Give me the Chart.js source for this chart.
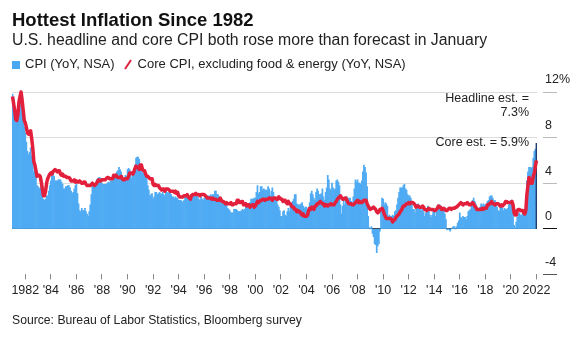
<!DOCTYPE html>
<html>
<head>
<meta charset="utf-8">
<script src="https://cdn.jsdelivr.net/npm/chart.js@4.4.1/dist/chart.umd.min.js"></script>
<style>
  body { margin: 0; background: #fff; font-family: "Liberation Sans", Arial, sans-serif; color: #111; }
  #wrap { position: relative; width: 584px; height: 339px; overflow: hidden; }
  #chart { position: absolute; left: 0; top: 0; }
  .txt { position: absolute; white-space: nowrap; }
  #title { left: 12px; top: 10px; font-size: 18.5px; line-height: 19px; font-weight: bold; }
  #subtitle { left: 12px; top: 32px; font-size: 15.8px; line-height: 16px; color: #222; }
  #legend { left: 12px; top: 57px; font-size: 13px; line-height: 13px; color: #222; }
  #legend .sq { display: inline-block; width: 8px; height: 8px; background: #4aa9f3; margin-right: 5px; vertical-align: -1px; }
  #legend svg { vertical-align: -2px; margin: 0 6px 0 9px; }
  .note { right: 55px; font-size: 12.5px; line-height: 14px; color: #222; text-align: right; }
  #source { left: 12px; top: 314px; font-size: 12.2px; line-height: 12px; color: #222; }
</style>
</head>
<body>
<div id="wrap">
  <canvas id="chart" width="584" height="339"></canvas>
  <div class="txt" id="title">Hottest Inflation Since 1982</div>
  <div class="txt" id="subtitle">U.S. headline and core CPI both rose more than forecast in January</div>
  <div class="txt" id="legend"><span class="sq"></span>CPI (YoY, NSA)<svg width="8" height="11"><line x1="1" y1="10" x2="7" y2="1" stroke="#e3203c" stroke-width="2"/></svg>Core CPI, excluding food &amp; energy (YoY, NSA)</div>
  <div class="txt note" style="top:91px">Headline est. =<br>7.3%</div>
  <div class="txt note" style="top:135px">Core est. = 5.9%</div>
  <div class="txt" id="source">Source: Bureau of Labor Statistics, Bloomberg survey</div>
</div>
<script>
// monthly, Jan 1981 .. Jan 2022 (one year per row)
const startYear = 1981;

const cpiYoY = [
  11.8, 11.4, 10.5, 10.0, 9.8, 9.6, 10.8, 10.8, 11.0, 10.1, 9.6, 8.9,
  8.4, 7.6, 6.8, 6.5, 6.7, 7.1, 6.4, 5.9, 5.0, 5.1, 4.6, 3.8,
  3.7, 3.5, 3.6, 3.9, 3.5, 2.6, 2.5, 2.6, 2.9, 2.9, 3.3, 3.8,
  4.2, 4.6, 4.8, 4.6, 4.2, 4.2, 4.2, 4.3, 4.3, 4.3, 4.1, 3.9,
  3.5, 3.5, 3.7, 3.7, 3.8, 3.8, 3.6, 3.3, 3.1, 3.2, 3.5, 3.8,
  3.9, 3.1, 2.2, 1.6, 1.5, 1.8, 1.6, 1.6, 1.8, 1.5, 1.3, 1.1,
  1.5, 2.1, 3.0, 3.8, 3.9, 3.7, 3.9, 4.3, 4.4, 4.5, 4.5, 4.4,
  4.0, 3.9, 3.9, 3.9, 3.9, 4.0, 4.1, 4.0, 4.2, 4.2, 4.2, 4.4,
  4.7, 4.8, 5.0, 5.1, 5.4, 5.2, 5.0, 4.7, 4.3, 4.5, 4.7, 4.6,
  5.2, 5.3, 5.2, 4.7, 4.4, 4.7, 4.8, 5.6, 6.2, 6.3, 6.3, 6.1,
  5.7, 5.3, 4.9, 4.9, 5.0, 4.7, 4.4, 3.8, 3.4, 2.9, 3.0, 3.1,
  2.6, 2.8, 3.2, 3.2, 3.0, 3.1, 3.2, 3.1, 3.0, 3.2, 3.0, 2.9,
  3.3, 3.2, 3.1, 3.2, 3.2, 3.0, 2.8, 2.8, 2.7, 2.8, 2.7, 2.7,
  2.5, 2.5, 2.5, 2.4, 2.3, 2.5, 2.8, 2.9, 3.0, 2.6, 2.7, 2.7,
  2.8, 2.9, 2.9, 3.1, 3.2, 3.0, 2.8, 2.6, 2.5, 2.8, 2.6, 2.5,
  2.7, 2.7, 2.8, 2.9, 2.9, 2.8, 3.0, 2.9, 3.0, 3.0, 3.3, 3.3,
  3.0, 3.0, 2.8, 2.5, 2.2, 2.3, 2.2, 2.2, 2.2, 2.1, 1.8, 1.7,
  1.6, 1.4, 1.4, 1.4, 1.7, 1.7, 1.7, 1.6, 1.5, 1.5, 1.5, 1.6,
  1.7, 1.6, 1.7, 2.3, 2.1, 2.0, 2.1, 2.3, 2.6, 2.6, 2.6, 2.7,
  2.7, 3.2, 3.8, 3.1, 3.2, 3.7, 3.7, 3.4, 3.5, 3.4, 3.4, 3.4,
  3.7, 3.5, 2.9, 3.3, 3.6, 3.2, 2.7, 2.7, 2.6, 2.1, 1.9, 1.6,
  1.1, 1.1, 1.5, 1.6, 1.2, 1.1, 1.5, 1.8, 1.5, 2.0, 2.2, 2.4,
  2.6, 3.0, 3.0, 2.2, 2.1, 2.1, 2.1, 2.2, 2.3, 2.0, 1.8, 1.9,
  1.9, 1.7, 1.7, 2.3, 3.1, 3.3, 3.0, 2.7, 2.5, 3.2, 3.5, 3.3,
  3.0, 3.0, 3.1, 3.5, 2.8, 2.5, 3.2, 3.6, 4.7, 4.3, 3.5, 3.4,
  4.0, 3.6, 3.4, 3.5, 4.2, 4.3, 4.1, 3.8, 2.1, 1.3, 2.0, 2.5,
  2.1, 2.4, 2.8, 2.6, 2.7, 2.7, 2.4, 2.0, 2.8, 3.5, 4.3, 4.1,
  4.3, 4.0, 4.0, 3.9, 4.2, 5.0, 5.6, 5.4, 4.9, 3.7, 1.1, 0.1,
  0.0, 0.2, -0.4, -0.7, -1.3, -1.4, -2.1, -1.5, -1.3, -0.2, 1.8, 2.7,
  2.6, 2.1, 2.3, 2.2, 2.0, 1.1, 1.2, 1.1, 1.1, 1.2, 1.1, 1.5,
  1.6, 2.1, 2.7, 3.2, 3.6, 3.6, 3.6, 3.8, 3.9, 3.5, 3.4, 3.0,
  2.9, 2.9, 2.7, 2.3, 1.7, 1.7, 1.4, 1.7, 2.0, 2.2, 1.8, 1.7,
  1.6, 2.0, 1.5, 1.1, 1.4, 1.8, 2.0, 1.5, 1.2, 1.0, 1.2, 1.5,
  1.6, 1.1, 1.5, 2.0, 2.1, 2.1, 2.0, 1.7, 1.7, 1.7, 1.3, 0.8,
  -0.1, 0.0, -0.1, -0.2, 0.0, 0.1, 0.2, 0.2, 0.0, 0.2, 0.5, 0.7,
  1.4, 1.0, 0.9, 1.1, 1.0, 1.0, 0.8, 1.1, 1.5, 1.6, 1.7, 2.1,
  2.5, 2.7, 2.4, 2.2, 1.9, 1.6, 1.7, 1.9, 2.2, 2.0, 2.2, 2.1,
  2.1, 2.2, 2.4, 2.5, 2.8, 2.9, 2.9, 2.7, 2.3, 2.5, 2.2, 1.9,
  1.6, 1.5, 1.9, 2.0, 1.8, 1.6, 1.8, 1.7, 1.7, 1.8, 2.1, 2.3,
  2.5, 2.3, 1.5, 0.3, 0.1, 0.6, 1.0, 1.3, 1.4, 1.2, 1.2, 1.4,
  1.4, 1.7, 2.6, 4.2, 5.0, 5.4, 5.4, 5.3, 5.4, 6.2, 6.8, 7.0,
  7.5
];

const coreYoY = [
  11.6, 11.0, 10.4, 9.6, 9.5, 10.0, 11.1, 11.6, 12.0, 11.3, 10.4, 9.5,
  9.3, 8.9, 8.4, 8.3, 8.5, 8.6, 7.9, 7.1, 5.9, 5.6, 5.1, 4.6,
  4.7, 4.7, 4.6, 4.1, 3.5, 2.9, 2.9, 3.3, 4.0, 4.4, 4.6, 4.8,
  4.9, 4.8, 5.0, 5.1, 5.2, 5.1, 5.0, 5.1, 5.1, 4.8, 4.7, 4.8,
  4.6, 4.6, 4.6, 4.5, 4.5, 4.5, 4.4, 4.2, 4.2, 4.2, 4.3, 4.1,
  4.2, 4.1, 4.1, 4.2, 4.1, 4.0, 4.0, 4.1, 4.1, 3.9, 3.8, 3.8,
  3.8, 3.8, 3.9, 4.0, 3.9, 3.8, 3.9, 4.0, 4.2, 4.3, 4.2, 4.2,
  4.3, 4.3, 4.3, 4.3, 4.4, 4.5, 4.5, 4.4, 4.4, 4.4, 4.4, 4.7,
  4.6, 4.7, 4.6, 4.5, 4.5, 4.5, 4.6, 4.4, 4.3, 4.3, 4.4, 4.4,
  4.4, 4.6, 4.9, 4.9, 4.9, 4.8, 5.0, 5.3, 5.5, 5.4, 5.4, 5.2,
  5.6, 5.6, 5.2, 5.1, 5.1, 4.8, 4.6, 4.6, 4.5, 4.4, 4.4, 4.4,
  3.9, 3.8, 3.9, 3.8, 3.8, 3.8, 3.6, 3.5, 3.4, 3.5, 3.5, 3.3,
  3.5, 3.5, 3.5, 3.4, 3.3, 3.3, 3.3, 3.3, 3.2, 3.3, 3.1, 3.2,
  2.9, 2.8, 2.8, 2.8, 2.8, 2.9, 2.9, 2.9, 3.0, 2.8, 2.7, 2.6,
  2.9, 3.0, 3.0, 3.0, 3.1, 3.0, 3.0, 3.0, 2.9, 3.0, 3.0, 3.0,
  3.0, 2.9, 2.8, 2.7, 2.7, 2.7, 2.7, 2.6, 2.7, 2.6, 2.6, 2.6,
  2.5, 2.5, 2.5, 2.7, 2.5, 2.4, 2.4, 2.3, 2.2, 2.3, 2.2, 2.2,
  2.2, 2.3, 2.1, 2.1, 2.2, 2.2, 2.2, 2.5, 2.5, 2.3, 2.3, 2.4,
  2.4, 2.1, 2.1, 2.2, 2.0, 2.1, 2.1, 1.9, 2.0, 2.1, 2.1, 1.9,
  2.0, 2.2, 2.4, 2.3, 2.4, 2.5, 2.5, 2.6, 2.6, 2.5, 2.6, 2.6,
  2.6, 2.7, 2.7, 2.6, 2.5, 2.7, 2.7, 2.7, 2.6, 2.6, 2.8, 2.7,
  2.6, 2.6, 2.4, 2.5, 2.5, 2.3, 2.2, 2.4, 2.2, 2.2, 2.0, 1.9,
  1.9, 1.7, 1.7, 1.5, 1.6, 1.5, 1.5, 1.3, 1.2, 1.3, 1.1, 1.1,
  1.1, 1.2, 1.6, 1.8, 1.7, 1.9, 1.8, 1.7, 2.0, 2.0, 2.2, 2.2,
  2.3, 2.4, 2.3, 2.2, 2.2, 2.0, 2.1, 2.1, 2.0, 2.1, 2.1, 2.2,
  2.1, 2.1, 2.1, 2.3, 2.4, 2.6, 2.7, 2.8, 2.9, 2.7, 2.6, 2.6,
  2.7, 2.7, 2.5, 2.3, 2.2, 2.2, 2.2, 2.1, 2.1, 2.2, 2.3, 2.4,
  2.5, 2.3, 2.4, 2.3, 2.3, 2.4, 2.5, 2.5, 2.5, 2.2, 2.0, 1.8,
  1.7, 1.8, 1.8, 1.9, 1.8, 1.7, 1.5, 1.4, 1.5, 1.7, 1.7, 1.8,
  1.6, 1.3, 1.1, 0.9, 0.9, 0.9, 0.9, 0.9, 0.8, 0.6, 0.8, 0.8,
  1.0, 1.1, 1.2, 1.3, 1.5, 1.6, 1.8, 2.0, 2.0, 2.1, 2.2, 2.2,
  2.3, 2.2, 2.3, 2.3, 2.3, 2.2, 2.1, 1.9, 2.0, 2.0, 1.9, 1.9,
  1.9, 2.0, 1.9, 1.7, 1.7, 1.6, 1.7, 1.8, 1.7, 1.7, 1.7, 1.7,
  1.6, 1.6, 1.7, 1.8, 2.0, 1.9, 1.9, 1.7, 1.7, 1.8, 1.7, 1.6,
  1.6, 1.7, 1.8, 1.8, 1.7, 1.8, 1.8, 1.8, 1.9, 1.9, 2.0, 2.1,
  2.2, 2.3, 2.2, 2.1, 2.2, 2.2, 2.2, 2.3, 2.2, 2.1, 2.1, 2.2,
  2.3, 2.2, 2.0, 1.9, 1.7, 1.7, 1.7, 1.7, 1.7, 1.8, 1.7, 1.8,
  1.8, 1.8, 2.1, 2.1, 2.2, 2.3, 2.4, 2.2, 2.2, 2.1, 2.2, 2.2,
  2.2, 2.1, 2.0, 2.1, 2.0, 2.1, 2.2, 2.4, 2.4, 2.3, 2.3, 2.3,
  2.3, 2.4, 2.1, 1.4, 1.2, 1.2, 1.6, 1.7, 1.7, 1.6, 1.6, 1.6,
  1.4, 1.3, 1.6, 3.0, 3.8, 4.5, 4.3, 4.0, 4.0, 4.6, 4.9, 5.5,
  6.0
];

const tickYears = [1982, 1984, 1986, 1988, 1990, 1992, 1994, 1996, 1998, 2000, 2002,
                   2004, 2006, 2008, 2010, 2012, 2014, 2016, 2018, 2020, 2022];
const tickLabels = ['1982', "'84", "'86", "'88", "'90", "'92", "'94", "'96", "'98", "'00", "'02",
                    "'04", "'06", "'08", "'10", "'12", "'14", "'16", "'18", "'20", '2022'];

const yTicks = [-4, 0, 4, 8, 12];

// month categories
let months = [];
for (let i = 0; i < cpiYoY.length; i++) {
  months.push((startYear + Math.floor(i / 12)) + '-' + String(i % 12 + 1).padStart(2, '0'));
}

function tickText(i) {
  if (i % 12 != 0) return '';
  let k = tickYears.indexOf(startYear + i / 12);
  return k < 0 ? '' : tickLabels[k];
}

let barColors = cpiYoY.map((v, i) => i == cpiYoY.length - 1 ? '#1d3e6e' : '#4fabf3');

const ctx = document.getElementById('chart').getContext('2d');
new Chart(ctx, {
  data: {
    labels: months,
    datasets: [
      {
        type: 'line',
        data: coreYoY,
        borderColor: '#e3203c',
        borderWidth: 3.5,
        pointRadius: 0,
        tension: 0,
        borderJoinStyle: 'round',
        clip: false,
        order: 0
      },
      {
        type: 'bar',
        data: cpiYoY,
        backgroundColor: barColors,
        borderWidth: 0,
        barPercentage: 1,
        categoryPercentage: 1,
        order: 1
      }
    ]
  },
  options: {
    responsive: false,
    animation: false,
    layout: { padding: { left: 12, top: 92, right: 0, bottom: 0 } },
    plugins: { legend: { display: false }, tooltip: { enabled: false } },
    scales: {
      x: {
        type: 'category',
        offset: true,
        border: { display: false },
        grid: {
          offset: false,
          drawOnChartArea: false,
          drawTicks: true,
          tickLength: 5,
          tickColor: (c) => tickText(c.index) ? '#888' : 'rgba(0,0,0,0)'
        },
        ticks: {
          autoSkip: false,
          maxRotation: 0,
          padding: 4,
          color: '#222',
          font: { family: 'Liberation Sans', size: 12.5 },
          callback: (v, i) => tickText(i)
        },
        afterFit: (s) => { s.height = 64.6; }
      },
      y: {
        position: 'right',
        min: -4,
        max: 12,
        border: { display: false },
        afterBuildTicks: (s) => { s.ticks = yTicks.map(v => ({ value: v })); },
        grid: {
          color: (c) => c.tick.value == 0 ? '#3b4a5c' : (c.tick.value == -4 ? 'rgba(0,0,0,0)' : '#dcdcdc'),
          lineWidth: 1,
          drawTicks: true,
          tickLength: 20,
          tickBorderDash: [0, 6, 14, 20],
          tickColor: (c) => c.tick.value == 0 ? '#111' : (c.tick.value == -4 ? '#555' : '#bbb')
        },
        ticks: {
          padding: -12,
          labelOffset: -12,
          color: '#222',
          font: { family: 'Liberation Sans', size: 12.5 },
          callback: (v) => v == 12 ? '12%' : String(v)
        },
        afterFit: (s) => { s.width = 47; }
      }
    }
  }
});
</script>
</body>
</html>
